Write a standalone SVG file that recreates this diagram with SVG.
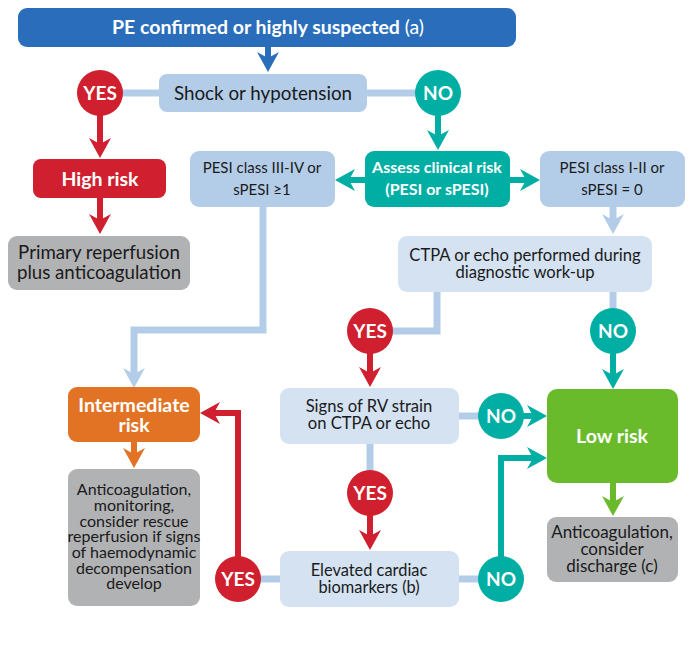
<svg xmlns="http://www.w3.org/2000/svg" width="700" height="650" viewBox="0 0 700 650">
<style>
text{font-family:Lato,"Open Sans","Liberation Sans",sans-serif;text-anchor:middle}
.t{fill:#1a1a1a}
.b{font-weight:bold;fill:#fff}
.c{font-size:19px;font-weight:bold;fill:#fff}
.ln{fill:none;stroke-width:6}
.lb{stroke:#b3cde8;stroke-width:7}
.r{stroke:#d01f2e}.g{stroke:#00aea4}.o{stroke:#e27325}.gr{stroke:#6abb2b}.db{stroke:#2a6ebb}
</style>
<defs>
<marker id="mr" markerUnits="userSpaceOnUse" markerWidth="22" markerHeight="24" viewBox="0 -12 22 24" refX="6" refY="0" orient="auto"><path d="M0,-11 L20,0 L0,11 L6,0 Z" fill="#d01f2e"/></marker>
<marker id="mg" markerUnits="userSpaceOnUse" markerWidth="22" markerHeight="24" viewBox="0 -12 22 24" refX="6" refY="0" orient="auto"><path d="M0,-11 L20,0 L0,11 L6,0 Z" fill="#00aea4"/></marker>
<marker id="mo" markerUnits="userSpaceOnUse" markerWidth="22" markerHeight="24" viewBox="0 -12 22 24" refX="6" refY="0" orient="auto"><path d="M0,-11 L20,0 L0,11 L6,0 Z" fill="#e27325"/></marker>
<marker id="mgr" markerUnits="userSpaceOnUse" markerWidth="22" markerHeight="24" viewBox="0 -12 22 24" refX="6" refY="0" orient="auto"><path d="M0,-11 L20,0 L0,11 L6,0 Z" fill="#6abb2b"/></marker>
<marker id="mlb" markerUnits="userSpaceOnUse" markerWidth="22" markerHeight="24" viewBox="0 -12 22 24" refX="6" refY="0" orient="auto"><path d="M0,-11 L20,0 L0,11 L6,0 Z" fill="#b3cde8"/></marker>
<marker id="mdb" markerUnits="userSpaceOnUse" markerWidth="22" markerHeight="24" viewBox="0 -12 22 24" refX="6" refY="0" orient="auto"><path d="M0,-11 L20,0 L0,11 L6,0 Z" fill="#2a6ebb"/></marker>
</defs>
<rect width="700" height="650" fill="#fff"/>

<g id="connectors">
<path class="ln db" d="M268,46 V58" marker-end="url(#mdb)"/>
<path class="ln lb" d="M100,93 H438"/>
<path class="ln r" d="M100,112 V144" marker-end="url(#mr)"/>
<path class="ln r" d="M100,198 V220" marker-end="url(#mr)"/>
<path class="ln g" d="M438,112 V136" marker-end="url(#mg)"/>
<path class="ln g" d="M366,180 H349" marker-end="url(#mg)"/>
<path class="ln g" d="M509,180 H526" marker-end="url(#mg)"/>
<path class="ln lb" d="M613,206 V220" marker-end="url(#mlb)"/>
<path class="ln lb" d="M263,206 V330 H134 V374" marker-end="url(#mlb)"/>
<path class="ln o" d="M134,441 V454" marker-end="url(#mo)"/>
<path class="ln lb" d="M437,291 V331 H370"/>
<path class="ln r" d="M370,350 V373" marker-end="url(#mr)"/>
<path class="ln lb" d="M613,291 V331"/>
<path class="ln g" d="M613,350 V375" marker-end="url(#mg)"/>
<path class="ln lb" d="M458,416 H501"/>
<path class="ln g" d="M520,416 H533" marker-end="url(#mg)"/>
<path class="ln lb" d="M370,443 V493"/>
<path class="ln r" d="M370,512 V536" marker-end="url(#mr)"/>
<path class="ln lb" d="M238,579 H501"/>
<path class="ln g" d="M501,560 V458 H533" marker-end="url(#mg)"/>
<path class="ln r" d="M238,560 V413 H214" marker-end="url(#mr)"/>
<path class="ln gr" d="M613,482 V502" marker-end="url(#mgr)"/>
</g>

<g id="start">
<rect x="18" y="8" width="498" height="39" rx="9" fill="#2a6ebb"/>
<text x="268" y="34" font-size="19.5" class="b">PE confirmed or highly suspected <tspan font-weight="normal">(a)</tspan></text>
</g>
<g id="shock">
<rect x="159" y="74" width="208" height="38" rx="8" fill="#b3cde8"/>
<text x="263" y="99.5" class="t" font-size="18.8">Shock or hypotension</text>
</g>
<g id="yes1"><circle cx="100" cy="93" r="23" fill="#d01f2e"/><text x="100" y="100" class="c">YES</text></g>
<g id="no1"><circle cx="438" cy="93" r="23" fill="#00aea4"/><text x="438" y="100" class="c">NO</text></g>
<g id="highrisk">
<rect x="33" y="159" width="133" height="39" rx="8" fill="#d01f2e"/>
<text x="100" y="186" font-size="19.5" class="b">High risk</text>
</g>
<g id="primary">
<rect x="8" y="236" width="182" height="54" rx="9" fill="#b1b2b4"/>
<text class="t" font-size="18.7"><tspan x="99" y="259">Primary reperfusion</tspan><tspan x="99" y="279">plus anticoagulation</tspan></text>
</g>
<g id="assess">
<rect x="365" y="151" width="145" height="56" rx="9" fill="#00aea4"/>
<text font-size="16" class="b"><tspan x="437" y="173">Assess clinical risk</tspan><tspan x="437" y="195">(PESI or sPESI)</tspan></text>
</g>
<g id="pesi34">
<rect x="190" y="151" width="145" height="56" rx="9" fill="#b3cde8"/>
<text class="t" font-size="15"><tspan x="262" y="173">PESI class III-IV or</tspan><tspan x="262" y="195">sPESI ≥1</tspan></text>
</g>
<g id="pesi12">
<rect x="540" y="151" width="145" height="56" rx="9" fill="#b3cde8"/>
<text class="t" font-size="15"><tspan x="612" y="173">PESI class I-II or</tspan><tspan x="612" y="195">sPESI = 0</tspan></text>
</g>
<g id="ctpa">
<rect x="398" y="236" width="254" height="56" rx="9" fill="#d4e2f2"/>
<text class="t" font-size="16.6"><tspan x="525" y="261">CTPA or echo performed during</tspan><tspan x="525" y="278">diagnostic work-up</tspan></text>
</g>
<g id="yes2"><circle cx="370" cy="331" r="23" fill="#d01f2e"/><text x="370" y="338" class="c">YES</text></g>
<g id="no2"><circle cx="613" cy="331" r="23" fill="#00aea4"/><text x="613" y="338" class="c">NO</text></g>
<g id="intermediate">
<rect x="68" y="387" width="132" height="55" rx="9" fill="#e27325"/>
<text font-size="19.5" class="b"><tspan x="134" y="412">Intermediate</tspan><tspan x="134" y="432">risk</tspan></text>
</g>
<g id="intermediate-action">
<rect x="68" y="469" width="132" height="137" rx="9" fill="#b1b2b4"/>
<text class="t" font-size="16"><tspan x="134" y="495">Anticoagulation,</tspan><tspan x="134" y="511">monitoring,</tspan><tspan x="134" y="527">consider rescue</tspan><tspan x="134" y="542">reperfusion if signs</tspan><tspan x="134" y="558">of haemodynamic</tspan><tspan x="134" y="574">decompensation</tspan><tspan x="134" y="589">develop</tspan></text>
</g>
<g id="signs">
<rect x="280" y="388" width="179" height="56" rx="9" fill="#d4e2f2"/>
<text class="t" font-size="16.6"><tspan x="369" y="412">Signs of RV strain</tspan><tspan x="369" y="429">on CTPA or echo</tspan></text>
</g>
<g id="no3"><circle cx="501" cy="416" r="23" fill="#00aea4"/><text x="501" y="423" class="c">NO</text></g>
<g id="yes3"><circle cx="370" cy="493" r="23" fill="#d01f2e"/><text x="370" y="500" class="c">YES</text></g>
<g id="elevated">
<rect x="280" y="551" width="179" height="56" rx="9" fill="#d4e2f2"/>
<text class="t" font-size="16.4"><tspan x="369" y="576">Elevated cardiac</tspan><tspan x="369" y="593">biomarkers (b)</tspan></text>
</g>
<g id="yes4"><circle cx="238" cy="579" r="23" fill="#d01f2e"/><text x="238" y="586" class="c">YES</text></g>
<g id="no4"><circle cx="501" cy="579" r="23" fill="#00aea4"/><text x="501" y="586" class="c">NO</text></g>
<g id="lowrisk">
<rect x="547" y="389" width="131" height="94" rx="10" fill="#6abb2b"/>
<text x="612" y="443" font-size="19.5" class="b">Low risk</text>
</g>
<g id="low-action">
<rect x="547" y="517" width="131" height="65" rx="9" fill="#b1b2b4"/>
<text class="t" font-size="17"><tspan x="612" y="538">Anticoagulation,</tspan><tspan x="612" y="555">consider</tspan><tspan x="612" y="572">discharge (c)</tspan></text>
</g>
</svg>
